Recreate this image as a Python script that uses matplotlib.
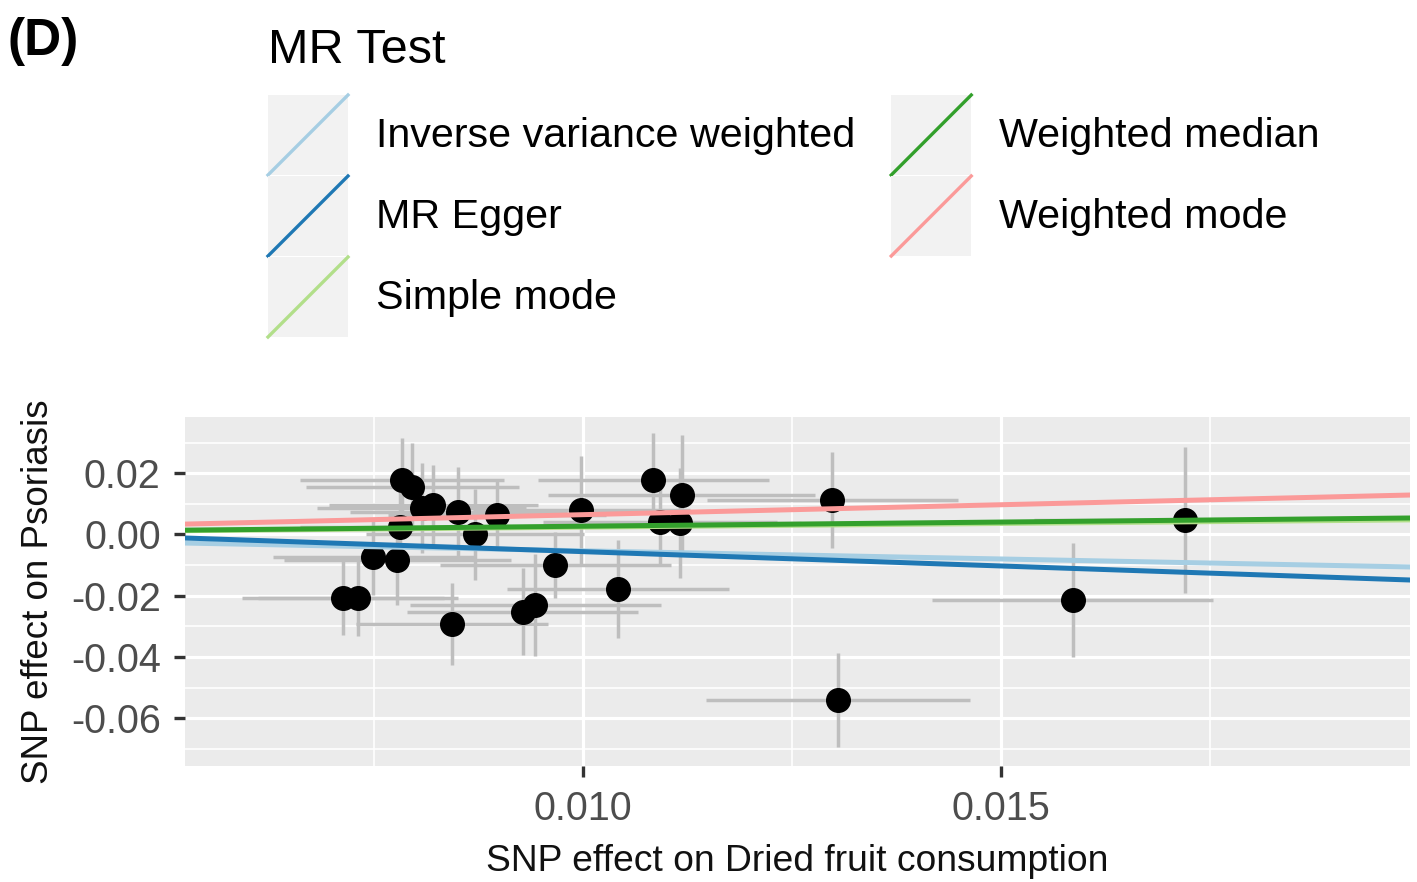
import matplotlib
matplotlib.use("Agg")
import matplotlib.pyplot as plt
from matplotlib.lines import Line2D
from matplotlib.patches import Rectangle
from matplotlib.legend_handler import HandlerBase
from matplotlib.ticker import FixedLocator, FormatStrFormatter

plt.rcParams['font.family'] = ['Liberation Sans', 'DejaVu Sans']
plt.rcParams['axes.unicode_minus'] = False

# ---- data ----
snp_x = [0.00713, 0.00731, 0.00749, 0.00778, 0.00781, 0.00784, 0.00796, 0.00807,
         0.00821, 0.00851, 0.00871, 0.00843, 0.00897, 0.00928, 0.00943, 0.00967,
         0.00998, 0.01042, 0.01084, 0.01118, 0.01092, 0.01116, 0.01298, 0.01305,
         0.01586, 0.01720]
snp_y = [-0.0207, -0.0207, -0.0074, -0.0083, 0.0025, 0.0178, 0.0155, 0.0087,
         0.0096, 0.0074, 0.0000, -0.0292, 0.0064, -0.0253, -0.0230, -0.0100,
         0.0080, -0.0178, 0.0178, 0.0129, 0.0041, 0.0038, 0.0113, -0.0541,
         -0.0214, 0.0047]
snp_x_se = [0.00121, 0.00120, 0.00120, 0.00136, 0.00120, 0.00122, 0.00127, 0.00125,
            0.00125, 0.00130, 0.00130, 0.00115, 0.00130, 0.00138, 0.00150, 0.00138,
            0.00130, 0.00133, 0.00138, 0.00160, 0.00140, 0.00145, 0.00150, 0.00158,
            0.00168, 0.00180]
snp_y_se = [0.0122, 0.0126, 0.0124, 0.0147, 0.0120, 0.0137, 0.0144, 0.0147,
            0.0130, 0.0147, 0.0147, 0.0134, 0.0110, 0.0142, 0.0167, 0.0107,
            0.0175, 0.0160, 0.0153, 0.0196, 0.0140, 0.0180, 0.0158, 0.0153,
            0.0186, 0.0238]

methods = ['Inverse variance weighted', 'MR Egger', 'Simple mode',
           'Weighted median', 'Weighted mode']
slopes = [-0.533, -0.936, 0.24, 0.271, 0.648]
intercepts = [0.0, 0.00376, 0.0, 0.0, 0.0]
method_colors = ['#a6cee3', '#1f78b4', '#b2df8a', '#33a02c', '#fb9a99']

x_major = [0.010, 0.015]
x_minor = [0.0075, 0.0125, 0.0175]
y_major = [-0.06, -0.04, -0.02, 0.00, 0.02]
y_minor = [-0.07, -0.05, -0.03, -0.01, 0.01, 0.03]
x_limits = (0.005239, 0.019892)
y_limits = (-0.0756, 0.03837)

x_title = 'SNP effect on Dried fruit consumption'
y_title = 'SNP effect on Psoriasis'
legend_title = 'MR Test'
panel_tag = '(D)'

# ---- figure ----
W, H = 1417, 882
fig = plt.figure(figsize=(W / 100, H / 100), dpi=100)
ax = fig.add_axes([185 / W, (H - 766) / H, (1410 - 185) / W, (766 - 417) / H])
ax.set_facecolor('#EBEBEB')
for s in ax.spines.values():
    s.set_visible(False)

ax.set_xlim(*x_limits)
ax.set_ylim(*y_limits)
ax.xaxis.set_major_locator(FixedLocator(x_major))
ax.xaxis.set_minor_locator(FixedLocator(x_minor))
ax.yaxis.set_major_locator(FixedLocator(y_major))
ax.yaxis.set_minor_locator(FixedLocator(y_minor))
ax.xaxis.set_major_formatter(FormatStrFormatter('%.3f'))
ax.yaxis.set_major_formatter(FormatStrFormatter('%.2f'))
ax.grid(which='major', color='white', linewidth=2.3)
ax.grid(which='minor', color='white', linewidth=1.2)
ax.set_axisbelow(True)
ax.tick_params(which='major', length=8, width=2.4, color='#333333',
               labelsize=28.5, labelcolor='#4D4D4D', pad=9.5)
ax.tick_params(which='minor', length=0)

ax.errorbar(snp_x, snp_y, xerr=snp_x_se, yerr=snp_y_se, fmt='none',
            ecolor='#BEBEBE', elinewidth=2.5, capsize=0, zorder=2)
ax.plot(snp_x, snp_y, 'o', color='black', markersize=17, zorder=3)

handles = []
for m, b, a, c in zip(methods, slopes, intercepts, method_colors):
    ax.axline((0.0, a), slope=b, color=c, linewidth=3.6, zorder=4)
    handles.append(Line2D([], [], color=c, linewidth=2.4, label=m))

ax.set_xlabel(x_title, fontsize=26.8, color='#111111', labelpad=11)
ax.set_ylabel(y_title, fontsize=26.5, color='#111111', labelpad=11)


class DiagHandler(HandlerBase):
    def create_artists(self, legend, orig_handle, xdescent, ydescent,
                       width, height, fontsize, trans):
        r = Rectangle((-xdescent, -ydescent), width, height,
                      facecolor='#F2F2F2', edgecolor='none', transform=trans)
        ln = Line2D([-xdescent, -xdescent + width],
                    [-ydescent, -ydescent + height],
                    color=orig_handle.get_color(),
                    linewidth=orig_handle.get_linewidth(), transform=trans)
        return [r, ln]


fs_leg = 29.7
fs_px = fs_leg / 72 * 100
key_px = 80.0
hh = (key_px / fs_px - 0.245) / 0.65
leg = fig.legend(handles=handles, labels=methods, ncol=2, loc='upper left',
                 bbox_to_anchor=(268 / W, 1 - 95 / H), frameon=False,
                 fontsize=fs_leg, borderpad=0, borderaxespad=0,
                 handlelength=key_px / fs_px, handleheight=hh,
                 handletextpad=28 / fs_px, columnspacing=36 / fs_px,
                 labelspacing=1 / fs_px,
                 handler_map={Line2D: DiagHandler()})

fig.text(268 / W, 1 - 63 / H, legend_title, fontsize=35, va='baseline', ha='left')
fig.text(8 / W, 1 - 55 / H, panel_tag, fontsize=37, fontweight='bold',
         va='baseline', ha='left')

fig.savefig('out.png', dpi=100)
